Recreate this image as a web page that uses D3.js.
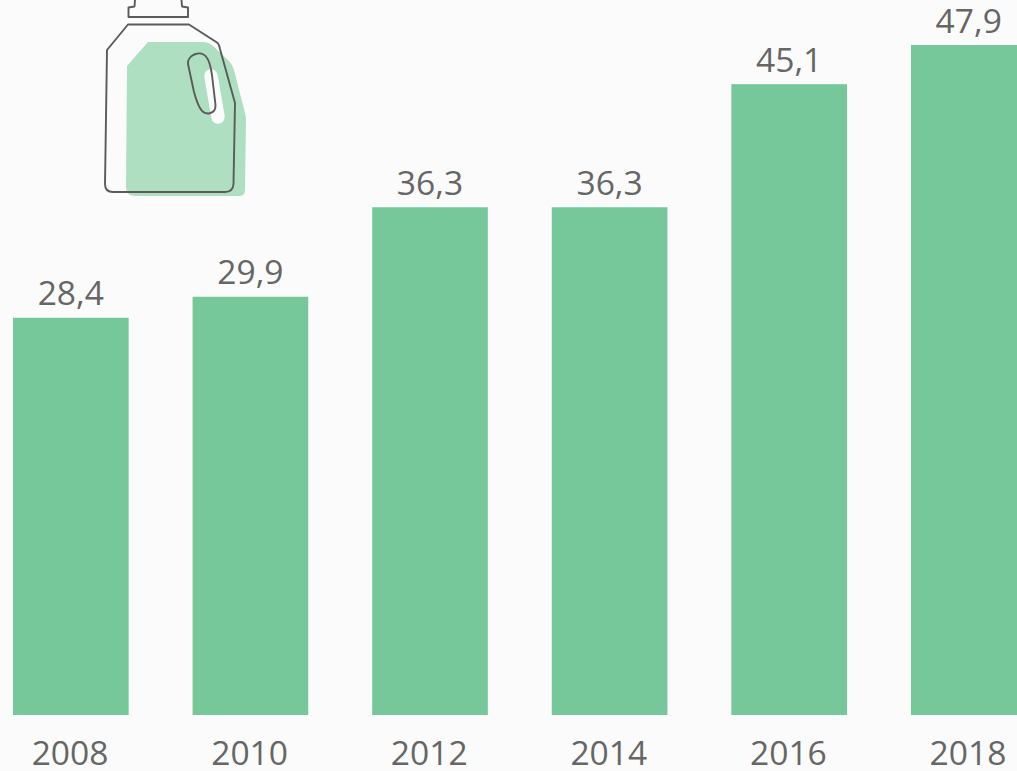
<!DOCTYPE html>
<html><head><meta charset="utf-8">
<script src="https://d3js.org/d3.v7.min.js"></script>
<style>
html,body{margin:0;padding:0;background:#fbfbfb;overflow:hidden}
svg{display:block}
text{font-family:"Open Sans",sans-serif;font-size:33.6px;fill:#666}
</style></head><body>
<svg id="c" width="1017" height="771"></svg>
<script>
const years=["2008","2010","2012","2014","2016","2018"];
const values=[28.4,29.9,36.3,36.3,45.1,47.9];
const svg=d3.select("#c");
const x=d3.scaleBand().domain(years).range([13,1026.6]).paddingInner(0.356).paddingOuter(0);
const y=d3.scaleLinear().domain([0,47.9]).range([715,45]);
const fmt=v=>v.toFixed(1).replace(".",",");

svg.selectAll("rect.bar").data(values).join("rect").attr("class","bar")
  .attr("x",(d,i)=>x(years[i])).attr("width",x.bandwidth())
  .attr("y",d=>y(d)).attr("height",d=>y(0)-y(d)).attr("fill","#76c79a");

svg.selectAll("text.val").data(values).join("text").attr("class","val")
  .attr("x",(d,i)=>x(years[i])+x.bandwidth()/2).attr("y",d=>y(d)-12.5)
  .attr("text-anchor","middle").text(fmt);

const axis=d3.axisBottom(x).tickSize(0).tickPadding(0);
const g=svg.append("g").attr("transform","translate(0,715)").call(axis);
g.select(".domain").remove();
g.selectAll("text").attr("y",0).attr("dy",0).attr("transform","translate(-0.8,49.5)")
  .attr("font-family",null).attr("font-size",null).attr("text-anchor","middle");
g.attr("font-size",null).attr("font-family",null);

// Decorative bottle icon
const icon=svg.append("g");
icon.append("path").attr("fill","#aedfc1")
  .attr("d","M148,42 L203,42 Q208,42 212,45 L228,60 Q232,64 234,70 L245,113 Q246,116 246,120 L245,190 Q245,196 239,196 L136,196 Q126,196 126,187 L127,66 Z");
icon.append("path").attr("fill","none").attr("stroke","#fbfbfb").attr("stroke-width",13.5).attr("stroke-linecap","round")
  .attr("d","M211,76 L218,117");
const st={fill:"none",stroke:"#5a5a5a",sw:1.9};
const line=d=>icon.append("path").attr("fill","none").attr("stroke",st.stroke).attr("stroke-width",st.sw).attr("stroke-linejoin","round").attr("d",d);
line("M135,0 L134.5,6.5 L128.5,7.5 L128.5,17 L188,17 L188,7.5 L182,6.5 L181.5,0");
line("M128,24.5 L189,24.5 L217,42.5 Q219,44 220,49 L235,103 L233.5,184 Q233,192 225,192 L113,192 Q105,192 105,184 L107,50 Z");
line("M188,64 C187,55 201,49 207,58 Q210,62 212,75 L215.5,105 C216,114 205,117 200,108 Q197,103 194,92 Z");
</script>
</body></html>
